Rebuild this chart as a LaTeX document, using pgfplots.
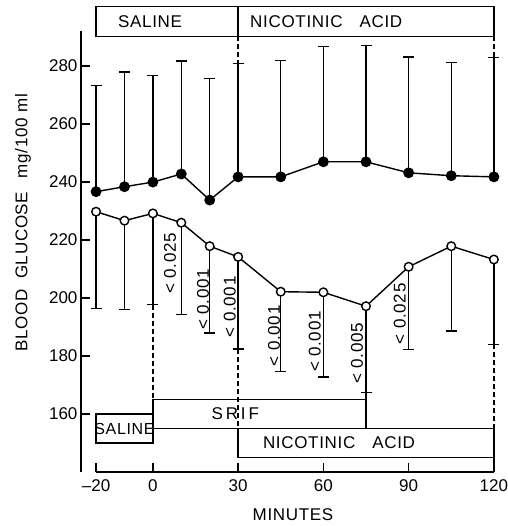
\documentclass[border=0pt]{standalone}
\usepackage{fontspec}
\setmainfont{Liberation Sans}
\newfontfamily\spaced{Liberation Sans}[LetterSpace=4]
\usepackage{pgfplots}
\pgfplotsset{compat=1.18}

% group values: mean and SEM (filled = saline/nicotinic acid, open = SRIF)
\newcommand{\bigfont}{\fontsize{17}{19}\selectfont}

\begin{document}
\begin{tikzpicture}[font=\bigfont\spaced]
\begin{axis}[
    x=2.842pt, y=2.9pt,
    xmin=-25.3, xmax=120, ymin=140, ymax=292,
    axis x line*=bottom, axis y line*=left,
    axis line style={-, line width=1.4pt},
    x axis line style={draw=none},
    xtick={-20,0,30,60,90,120},
    xticklabels={--20,0,30,60,90,120},
    ytick={160,180,...,280},
    tick align=inside,
    major tick length=9pt,
    every tick/.style={black, line width=1.4pt},
    tick label style={font=\bigfont\normalfont\bigfont},
    xticklabel style={yshift=-4pt},
    /pgf/number format/assume math mode=true,
    clip=false,
]
\addplot[black, line width=1.4pt, mark=*, mark size=4.7pt,
    error bars/.cd, y dir=plus, y explicit,
    error bar style={line width=1.4pt},
    error mark options={rotate=90, mark size=5.5pt, line width=1.4pt}]
    coordinates {
    (-20,236.7) +- (0,36.7)
    (-10,238.4) +- (0,39.6)
    (0,240.0)   +- (0,36.7)
    (10,242.8)  +- (0,38.9)
    (20,233.8)  +- (0,42.0)
    (30,241.8)  +- (0,39.2)
    (45,241.8)  +- (0,40.2)
    (60,247.0)  +- (0,39.7)
    (75,247.0)  +- (0,40.2)
    (90,243.2)  +- (0,40.0)
    (105,242.2) +- (0,39.1)
    (120,241.8) +- (0,41.2)
    };
\addplot[black, line width=1.4pt, mark=*, mark size=4.3pt,
    mark options={fill=white, draw=black},
    error bars/.cd, y dir=minus, y explicit,
    error bar style={line width=1.4pt},
    error mark options={rotate=90, mark size=5.5pt, line width=1.4pt}]
    coordinates {
    (-20,229.8) +- (0,33.4)
    (-10,226.7) +- (0,30.6)
    (0,229.2)   +- (0,31.5)
    (10,226.0)  +- (0,31.6)
    (20,217.9)  +- (0,30.0)
    (30,214.2)  +- (0,31.7)
    (45,202.2)  +- (0,27.6)
    (60,202.0)  +- (0,29.2)
    (75,197.2)  +- (0,29.8)
    (90,210.8)  +- (0,28.6)
    (105,217.9) +- (0,29.2)
    (120,213.3) +- (0,29.3)
    };

% bottom axis line starts at -20
\draw[line width=1.4pt] (axis cs:-20,140) -- (axis cs:120,140);

% treatment bars
\draw[line width=1.3pt] (axis cs:-20,290.3) rectangle (axis cs:30,300.6);
\draw[line width=1.3pt] (axis cs:30,290.3) rectangle (axis cs:120,300.6);
\node at (axis cs:-1,295.4) {SALINE};
\node at (axis cs:61,295.4) {NICOTINIC\quad ACID};

\draw[line width=1.3pt] (axis cs:-20,150) rectangle (axis cs:0,160);
\draw[line width=1.3pt] (axis cs:0,155) rectangle (axis cs:75,165);
\draw[line width=1.3pt] (axis cs:30,145) rectangle (axis cs:120,155);
\node[inner sep=0pt] at (axis cs:-10,155) {\fontsize{16}{18}\selectfont SALINE};
\node at (axis cs:29,160) {S\,R\,I\,F};
\node at (axis cs:65.5,150) {NICOTINIC\quad ACID};

% dashed guide lines
\begin{scope}[line width=1.3pt, dash pattern=on 5pt off 3pt]
\draw (axis cs:30,290.3) -- (axis cs:30,281);
\draw (axis cs:120,290.3) -- (axis cs:120,283);
\draw (axis cs:0,197.7) -- (axis cs:0,165);
\draw (axis cs:30,182.5) -- (axis cs:30,155);
\draw (axis cs:120,184) -- (axis cs:120,155);
\draw (axis cs:120,145) -- (axis cs:120,140);
\end{scope}
\draw[line width=1.4pt] (axis cs:75,167.4) -- (axis cs:75,165);

% significance levels
\node[rotate=90] at (axis cs:6.0,212) {< 0.025};
\node[rotate=90] at (axis cs:17.6,199.5) {< 0.001};
\node[rotate=90] at (axis cs:27.1,197) {< 0.001};
\node[rotate=90] at (axis cs:42.6,187) {< 0.001};
\node[rotate=90] at (axis cs:57.0,185) {< 0.001};
\node[rotate=90] at (axis cs:71.8,181) {< 0.005};
\node[rotate=90] at (axis cs:86.9,194.6) {< 0.025};

% axis titles
\node[rotate=90] at (axis cs:-45.7,226) {BLOOD\hspace{0.6em}GLUCOSE\hspace{0.8em}mg/100 ml};
\node at (axis cs:49.3,125.2) {MINUTES};

\coordinate (bbsw) at (axis cs:-53.8,121.4);
\coordinate (bbne) at (axis cs:124.9,302.8);
\end{axis}
\pgfresetboundingbox
\path[use as bounding box] (bbsw) rectangle (bbne);
\end{tikzpicture}
\end{document}
